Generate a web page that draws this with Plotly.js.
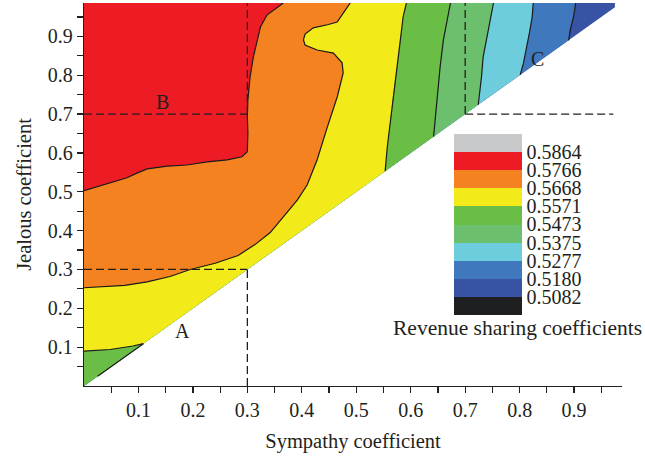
<!DOCTYPE html>
<html>
<head>
<meta charset="utf-8">
<script src="https://cdn.plot.ly/plotly-3.0.1.min.js"></script>
<style>html,body{margin:0;padding:0;background:#fff;}#chart{width:645px;height:458px;}</style>
</head>
<body>
<div id="chart"></div>
<script>
// ---- Data ----
const levels = [0.5082, 0.5180, 0.5277, 0.5375, 0.5473, 0.5571, 0.5668, 0.5766, 0.5864];
const levelLabels = ['0.5082', '0.5180', '0.5277', '0.5375', '0.5473', '0.5571', '0.5668', '0.5766', '0.5864'];
const bandColors = ['#1e1f21', '#3953a4', '#3f78bd', '#6dcddd', '#6cbf6c', '#6abd45', '#f2ea19', '#f58220', '#ed1c24', '#c7c8ca'];

// domain: upper-left triangle (jealous >= sympathy)
const domainTop = 0.986;
const domainX = [0, 0.975, 0.975, 0];
const domainY = [0, 0.975, 0.986, 0.986];

// contour boundaries (top -> diagonal)
const c5180x = [0.903, 0.899, 0.893, 0.890];
const c5180y = [0.986, 0.950, 0.917, 0.890];
const c5277x = [0.825, 0.823, 0.818, 0.8125, 0.807, 0.801];
const c5277y = [0.986, 0.950, 0.909, 0.865, 0.831, 0.801];
const c5375x = [0.752, 0.746, 0.741, 0.733, 0.730, 0.726, 0.724];
const c5375y = [0.986, 0.942, 0.899, 0.847, 0.796, 0.754, 0.724];
const c5473x = [0.673, 0.667, 0.660, 0.654, 0.649, 0.645, 0.642];
const c5473y = [0.986, 0.942, 0.891, 0.822, 0.754, 0.693, 0.642];
const c5571x = [0.592, 0.586, 0.581, 0.575, 0.568, 0.5625, 0.557, 0.553];
const c5571y = [0.986, 0.950, 0.891, 0.822, 0.754, 0.685, 0.616, 0.553];
// lower-left boundary (left edge -> diagonal)
const c5571bx = [0, 0.048, 0.090, 0.109];
const c5571by = [0.090, 0.094, 0.103, 0.109];
// left edge -> top
const c5668x = [0, 0.048, 0.075, 0.116, 0.158, 0.195, 0.241, 0.283, 0.314, 0.342, 0.373, 0.392, 0.410, 0.428, 0.447, 0.465, 0.476, 0.474, 0.458, 0.428, 0.406, 0.403, 0.406, 0.421, 0.447, 0.465, 0.476, 0.489];
const c5668y = [0.253, 0.257, 0.259, 0.268, 0.282, 0.300, 0.316, 0.336, 0.364, 0.395, 0.446, 0.479, 0.518, 0.582, 0.667, 0.744, 0.806, 0.832, 0.857, 0.865, 0.878, 0.891, 0.906, 0.922, 0.930, 0.937, 0.960, 0.986];
const c5766x = [0, 0.042, 0.079, 0.097, 0.116, 0.153, 0.189, 0.226, 0.263, 0.290, 0.300, 0.301, 0.300, 0.301, 0.305, 0.311, 0.318, 0.324, 0.336, 0.366];
const c5766y = [0.503, 0.520, 0.536, 0.548, 0.559, 0.566, 0.569, 0.577, 0.582, 0.590, 0.603, 0.652, 0.693, 0.737, 0.796, 0.847, 0.891, 0.924, 0.955, 0.986];
// contour edge running along the diagonal in the lower-left corner
const edgeX = [0.025, 0.109];
const edgeY = [0.025, 0.109];

// reference points and guide lines
const pointNames = ['A', 'B', 'C'];
const pointX = [0.3, 0.3, 0.7];
const pointY = [0.3, 0.7, 0.7];
const labelX = [0.180, 0.145, 0.833];
const labelY = [0.141, 0.732, 0.841];
const guideRight = 0.972;

const ticks = [0.05, 0.1, 0.15, 0.2, 0.25, 0.3, 0.35, 0.4, 0.45, 0.5, 0.55, 0.6, 0.65, 0.7, 0.75, 0.8, 0.85, 0.9, 0.95];
const tickText = ['', '0.1', '', '0.2', '', '0.3', '', '0.4', '', '0.5', '', '0.6', '', '0.7', '', '0.8', '', '0.9', ''];

// ---- build ----
const FONT = 'Liberation Serif, Times New Roman, serif';
const TXT = '#231f20';
const rev = a => a.slice().reverse();
const traces = [];
function poly(x, y, color) {
  traces.push({type: 'scatter', mode: 'lines', x: x, y: y, fill: 'toself', fillcolor: color,
    line: {width: 0, color: color}, hoverinfo: 'skip', showlegend: false});
}
// superlevel regions, lowest first
poly(domainX, domainY, bandColors[1]);
poly([0].concat(rev(c5180x), [0]), [0].concat(rev(c5180y), [domainTop]), bandColors[2]);
poly([0].concat(rev(c5277x), [0]), [0].concat(rev(c5277y), [domainTop]), bandColors[3]);
poly([0].concat(rev(c5375x), [0]), [0].concat(rev(c5375y), [domainTop]), bandColors[4]);
poly([0].concat(rev(c5473x), [0]), [0].concat(rev(c5473y), [domainTop]), bandColors[5]);
poly(c5571bx.concat(rev(c5571x), [0]), c5571by.concat(rev(c5571y), [domainTop]), bandColors[6]);
poly(c5668x.concat([0]), c5668y.concat([domainTop]), bandColors[7]);
poly(c5766x.concat([0]), c5766y.concat([domainTop]), bandColors[8]);

function cline(x, y) {
  traces.push({type: 'scatter', mode: 'lines', x: x, y: y, line: {color: '#1a1a1a', width: 1.2},
    hoverinfo: 'skip', showlegend: false});
}
[[c5180x, c5180y], [c5277x, c5277y], [c5375x, c5375y], [c5473x, c5473y], [c5571x, c5571y],
 [c5571bx, c5571by], [c5668x, c5668y], [c5766x, c5766y], [edgeX, edgeY]].forEach(p => cline(p[0], p[1]));

function dash(x, y) {
  traces.push({type: 'scatter', mode: 'lines', x: x, y: y, line: {color: '#231f20', width: 1.3, dash: '8px,4px'},
    hoverinfo: 'skip', showlegend: false});
}
// A: down to axis and left to axis
dash([pointX[0], pointX[0]], [0, pointY[0]]);
dash([0, pointX[0]], [pointY[0], pointY[0]]);
// B: up to top and left to axis
dash([pointX[1], pointX[1]], [pointY[1], domainTop]);
dash([0, pointX[1]], [pointY[1], pointY[1]]);
// C: up to top and right
dash([pointX[2], pointX[2]], [pointY[2], domainTop]);
dash([pointX[2], guideRight], [pointY[2], pointY[2]]);

// colour scale (bands)
const cStep = (levels[levels.length - 1] - levels[0]) / (levels.length - 1);
const cmin = levels[0] - cStep, cmax = levels[levels.length - 1] + cStep;
const cscale = [];
bandColors.forEach((c, i) => { cscale.push([i / bandColors.length, c]); cscale.push([(i + 1) / bandColors.length, c]); });
traces.push({type: 'scatter', mode: 'markers', x: [null], y: [null], hoverinfo: 'skip', showlegend: false,
  marker: {color: [levels[4]], colorscale: cscale, cmin: cmin, cmax: cmax, showscale: true, size: 1,
    colorbar: {thickness: 68, thicknessmode: 'pixels', len: 181, lenmode: 'pixels',
      x: 0.6877, xanchor: 'left', xpad: 0, y: 0.4217, yanchor: 'middle', ypad: 0,
      outlinewidth: 0, ticks: '', tickmode: 'array', tickvals: levels, ticktext: levelLabels,
      tickfont: {family: FONT, size: 20, color: TXT}}}});

const annotations = pointNames.map((n, i) => ({x: labelX[i], y: labelY[i], xref: 'x', yref: 'y', text: n,
  showarrow: false, xanchor: 'center', yanchor: 'middle', font: {family: FONT, size: 20, color: TXT}}));
annotations.push({x: 0.806, y: 0.1514, xref: 'paper', yref: 'paper', xanchor: 'center', yanchor: 'middle',
  text: 'Revenue sharing coefficients', showarrow: false, font: {family: FONT, size: 21.5, color: TXT}});

const axisCommon = {showgrid: false, zeroline: false, showline: true, linecolor: TXT, linewidth: 1.3,
  ticks: 'outside', ticklen: 6, tickwidth: 1.2, tickcolor: TXT, tickmode: 'array', tickvals: ticks, ticktext: tickText,
  tickfont: {family: FONT, size: 20, color: TXT}, fixedrange: true};

const layout = {
  width: 645, height: 458, margin: {l: 84, r: 23, t: 3, b: 72},
  paper_bgcolor: '#fff', plot_bgcolor: '#fff', showlegend: false,
  font: {family: FONT, color: TXT},
  xaxis: Object.assign({}, axisCommon, {range: [0, 0.988],
    title: {text: 'Sympathy coefficient', font: {family: FONT, size: 20.5, color: TXT}, standoff: 13}}),
  yaxis: Object.assign({}, axisCommon, {range: [0, 0.986],
    title: {text: 'Jealous coefficient', font: {family: FONT, size: 20.5, color: TXT}, standoff: 10}}),
  annotations: annotations
};
Plotly.newPlot('chart', traces, layout, {staticPlot: true, displayModeBar: false});
</script>
</body>
</html>
